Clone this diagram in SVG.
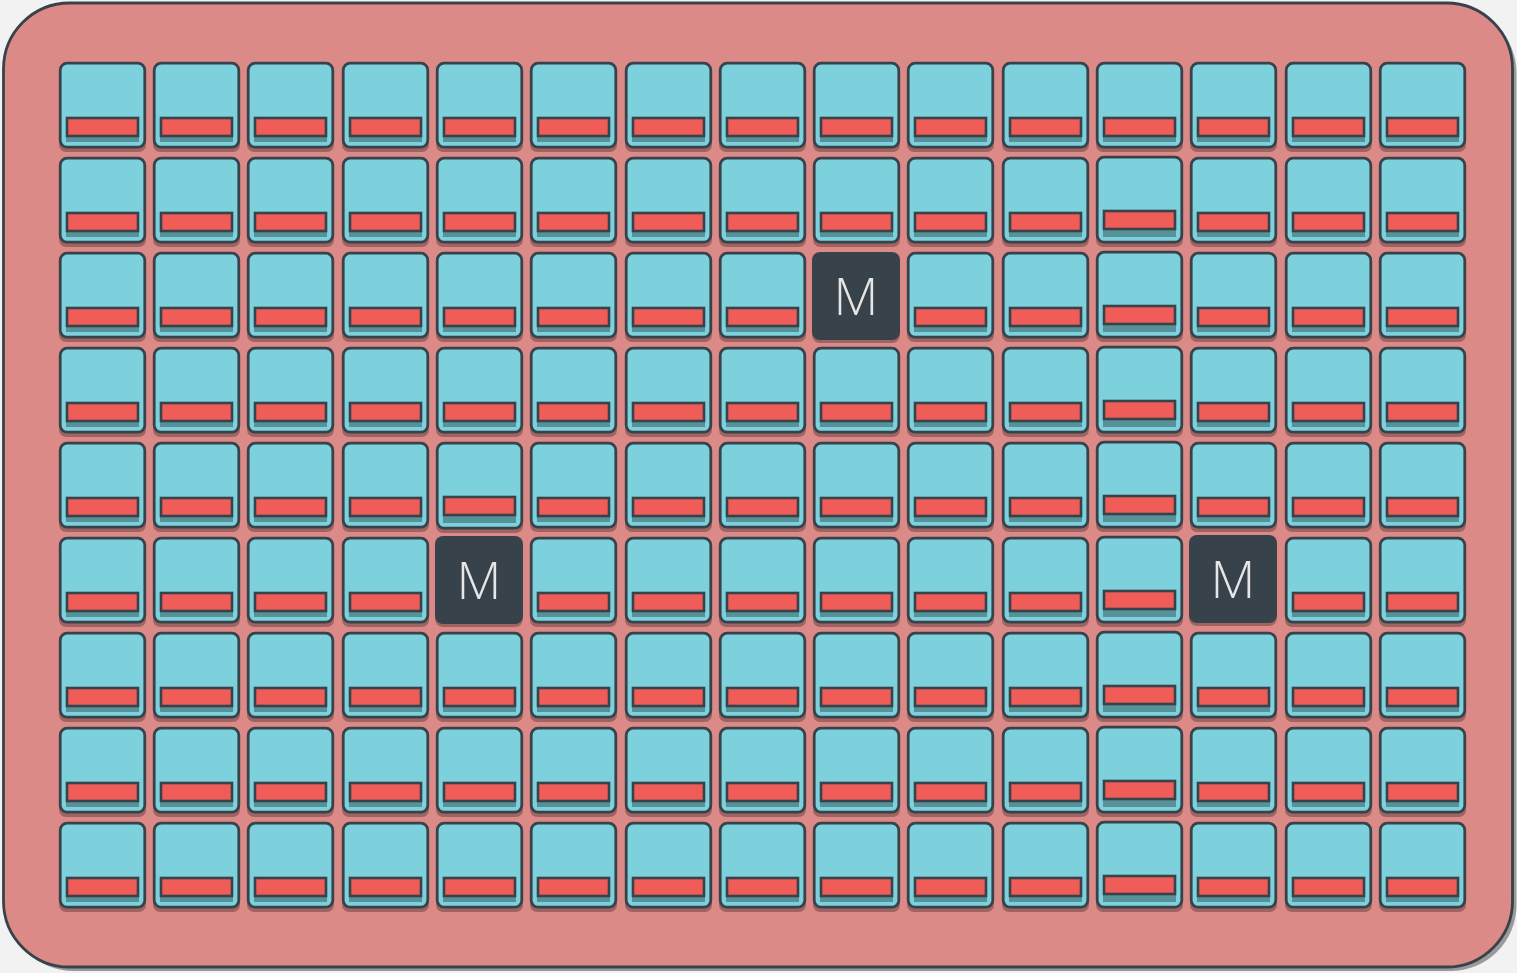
<svg xmlns="http://www.w3.org/2000/svg" xmlns:xlink="http://www.w3.org/1999/xlink" width="1517" height="973" viewBox="0 0 1517 973">
<style>
.bg{fill:#f2f2f2}
.board{fill:#db8a87;stroke:#37424a;stroke-width:2.8}
.boardsh{fill:#9a9a9a}
.sh{fill:#000;opacity:.27}
.tile{fill:#7dd1dc;stroke:#37424a;stroke-width:2.8}
.bar{fill:#f05c57;stroke:#37424a;stroke-width:2.6}
.barsh{fill:#000;opacity:.3}
.mt{fill:#37424a}
.ml{font-family:"Open Sans","Liberation Sans",sans-serif;font-weight:300;font-size:52px;fill:#e6e6e6;text-anchor:middle}
</style>
<defs>
<g id="tile">
<rect class="sh" x="0" y="4" width="87" height="86" rx="7"/>
<rect class="tile" x="1.2" y="1.2" width="84.6" height="84" rx="7"/>
<rect class="barsh" x="7" y="60" width="73" height="20"/>
<rect class="bar" x="8" y="56" width="71" height="18"/>
</g>
<g id="tileb">
<rect class="sh" x="0" y="4" width="87" height="87" rx="7"/>
<rect class="tile" x="1.2" y="1.2" width="84.6" height="85" rx="7"/>
<rect class="barsh" x="7" y="59" width="73" height="22"/>
<rect class="bar" x="8" y="55" width="71" height="18"/>
</g>
<g id="mtile">
<rect class="sh" x="0" y="4" width="88" height="87" rx="8"/>
<rect class="mt" x="0" y="0" width="88" height="88" rx="8"/>
</g>
</defs>
<rect class="bg" x="0" y="0" width="1517" height="973"/>
<g id="board">
<rect class="boardsh" x="7.5" y="7" width="1509" height="964" rx="66"/>
<rect class="board" x="3.5" y="3" width="1509" height="964" rx="66"/>
</g>
<g id="connectors"/>
<g id="r0">
<g id="t0-0" transform="translate(59,62)"><use href="#tile"/></g>
<g id="t0-1" transform="translate(153,62)"><use href="#tile"/></g>
<g id="t0-2" transform="translate(247,62)"><use href="#tile"/></g>
<g id="t0-3" transform="translate(342,62)"><use href="#tile"/></g>
<g id="t0-4" transform="translate(436,62)"><use href="#tile"/></g>
<g id="t0-5" transform="translate(530,62)"><use href="#tile"/></g>
<g id="t0-6" transform="translate(625,62)"><use href="#tile"/></g>
<g id="t0-7" transform="translate(719,62)"><use href="#tile"/></g>
<g id="t0-8" transform="translate(813,62)"><use href="#tile"/></g>
<g id="t0-9" transform="translate(907,62)"><use href="#tile"/></g>
<g id="t0-10" transform="translate(1002,62)"><use href="#tile"/></g>
<g id="t0-11" transform="translate(1096,62)"><use href="#tile"/></g>
<g id="t0-12" transform="translate(1190,62)"><use href="#tile"/></g>
<g id="t0-13" transform="translate(1285,62)"><use href="#tile"/></g>
<g id="t0-14" transform="translate(1379,62)"><use href="#tile"/></g>
</g>
<g id="r1">
<g id="t1-0" transform="translate(59,157)"><use href="#tile"/></g>
<g id="t1-1" transform="translate(153,157)"><use href="#tile"/></g>
<g id="t1-2" transform="translate(247,157)"><use href="#tile"/></g>
<g id="t1-3" transform="translate(342,157)"><use href="#tile"/></g>
<g id="t1-4" transform="translate(436,157)"><use href="#tile"/></g>
<g id="t1-5" transform="translate(530,157)"><use href="#tile"/></g>
<g id="t1-6" transform="translate(625,157)"><use href="#tile"/></g>
<g id="t1-7" transform="translate(719,157)"><use href="#tile"/></g>
<g id="t1-8" transform="translate(813,157)"><use href="#tile"/></g>
<g id="t1-9" transform="translate(907,157)"><use href="#tile"/></g>
<g id="t1-10" transform="translate(1002,157)"><use href="#tile"/></g>
<g id="t1-11" transform="translate(1096,156)"><use href="#tileb"/></g>
<g id="t1-12" transform="translate(1190,157)"><use href="#tile"/></g>
<g id="t1-13" transform="translate(1285,157)"><use href="#tile"/></g>
<g id="t1-14" transform="translate(1379,157)"><use href="#tile"/></g>
</g>
<g id="r2">
<g id="t2-0" transform="translate(59,252)"><use href="#tile"/></g>
<g id="t2-1" transform="translate(153,252)"><use href="#tile"/></g>
<g id="t2-2" transform="translate(247,252)"><use href="#tile"/></g>
<g id="t2-3" transform="translate(342,252)"><use href="#tile"/></g>
<g id="t2-4" transform="translate(436,252)"><use href="#tile"/></g>
<g id="t2-5" transform="translate(530,252)"><use href="#tile"/></g>
<g id="t2-6" transform="translate(625,252)"><use href="#tile"/></g>
<g id="t2-7" transform="translate(719,252)"><use href="#tile"/></g>
<g id="m2-8" transform="translate(812,252)"><use href="#mtile"/><text class="ml" x="44" y="63">M</text></g>
<g id="t2-9" transform="translate(907,252)"><use href="#tile"/></g>
<g id="t2-10" transform="translate(1002,252)"><use href="#tile"/></g>
<g id="t2-11" transform="translate(1096,251)"><use href="#tileb"/></g>
<g id="t2-12" transform="translate(1190,252)"><use href="#tile"/></g>
<g id="t2-13" transform="translate(1285,252)"><use href="#tile"/></g>
<g id="t2-14" transform="translate(1379,252)"><use href="#tile"/></g>
</g>
<g id="r3">
<g id="t3-0" transform="translate(59,347)"><use href="#tile"/></g>
<g id="t3-1" transform="translate(153,347)"><use href="#tile"/></g>
<g id="t3-2" transform="translate(247,347)"><use href="#tile"/></g>
<g id="t3-3" transform="translate(342,347)"><use href="#tile"/></g>
<g id="t3-4" transform="translate(436,347)"><use href="#tile"/></g>
<g id="t3-5" transform="translate(530,347)"><use href="#tile"/></g>
<g id="t3-6" transform="translate(625,347)"><use href="#tile"/></g>
<g id="t3-7" transform="translate(719,347)"><use href="#tile"/></g>
<g id="t3-8" transform="translate(813,347)"><use href="#tile"/></g>
<g id="t3-9" transform="translate(907,347)"><use href="#tile"/></g>
<g id="t3-10" transform="translate(1002,347)"><use href="#tile"/></g>
<g id="t3-11" transform="translate(1096,346)"><use href="#tileb"/></g>
<g id="t3-12" transform="translate(1190,347)"><use href="#tile"/></g>
<g id="t3-13" transform="translate(1285,347)"><use href="#tile"/></g>
<g id="t3-14" transform="translate(1379,347)"><use href="#tile"/></g>
</g>
<g id="r4">
<g id="t4-0" transform="translate(59,442)"><use href="#tile"/></g>
<g id="t4-1" transform="translate(153,442)"><use href="#tile"/></g>
<g id="t4-2" transform="translate(247,442)"><use href="#tile"/></g>
<g id="t4-3" transform="translate(342,442)"><use href="#tile"/></g>
<g id="t4-4" transform="translate(436,442)"><use href="#tileb"/></g>
<g id="t4-5" transform="translate(530,442)"><use href="#tile"/></g>
<g id="t4-6" transform="translate(625,442)"><use href="#tile"/></g>
<g id="t4-7" transform="translate(719,442)"><use href="#tile"/></g>
<g id="t4-8" transform="translate(813,442)"><use href="#tile"/></g>
<g id="t4-9" transform="translate(907,442)"><use href="#tile"/></g>
<g id="t4-10" transform="translate(1002,442)"><use href="#tile"/></g>
<g id="t4-11" transform="translate(1096,441)"><use href="#tileb"/></g>
<g id="t4-12" transform="translate(1190,442)"><use href="#tile"/></g>
<g id="t4-13" transform="translate(1285,442)"><use href="#tile"/></g>
<g id="t4-14" transform="translate(1379,442)"><use href="#tile"/></g>
</g>
<g id="r5">
<g id="t5-0" transform="translate(59,537)"><use href="#tile"/></g>
<g id="t5-1" transform="translate(153,537)"><use href="#tile"/></g>
<g id="t5-2" transform="translate(247,537)"><use href="#tile"/></g>
<g id="t5-3" transform="translate(342,537)"><use href="#tile"/></g>
<g id="m5-4" transform="translate(435,536)"><use href="#mtile"/><text class="ml" x="44" y="63">M</text></g>
<g id="t5-5" transform="translate(530,537)"><use href="#tile"/></g>
<g id="t5-6" transform="translate(625,537)"><use href="#tile"/></g>
<g id="t5-7" transform="translate(719,537)"><use href="#tile"/></g>
<g id="t5-8" transform="translate(813,537)"><use href="#tile"/></g>
<g id="t5-9" transform="translate(907,537)"><use href="#tile"/></g>
<g id="t5-10" transform="translate(1002,537)"><use href="#tile"/></g>
<g id="t5-11" transform="translate(1096,536)"><use href="#tileb"/></g>
<g id="m5-12" transform="translate(1189,535)"><use href="#mtile"/><text class="ml" x="44" y="63">M</text></g>
<g id="t5-13" transform="translate(1285,537)"><use href="#tile"/></g>
<g id="t5-14" transform="translate(1379,537)"><use href="#tile"/></g>
</g>
<g id="r6">
<g id="t6-0" transform="translate(59,632)"><use href="#tile"/></g>
<g id="t6-1" transform="translate(153,632)"><use href="#tile"/></g>
<g id="t6-2" transform="translate(247,632)"><use href="#tile"/></g>
<g id="t6-3" transform="translate(342,632)"><use href="#tile"/></g>
<g id="t6-4" transform="translate(436,632)"><use href="#tile"/></g>
<g id="t6-5" transform="translate(530,632)"><use href="#tile"/></g>
<g id="t6-6" transform="translate(625,632)"><use href="#tile"/></g>
<g id="t6-7" transform="translate(719,632)"><use href="#tile"/></g>
<g id="t6-8" transform="translate(813,632)"><use href="#tile"/></g>
<g id="t6-9" transform="translate(907,632)"><use href="#tile"/></g>
<g id="t6-10" transform="translate(1002,632)"><use href="#tile"/></g>
<g id="t6-11" transform="translate(1096,631)"><use href="#tileb"/></g>
<g id="t6-12" transform="translate(1190,632)"><use href="#tile"/></g>
<g id="t6-13" transform="translate(1285,632)"><use href="#tile"/></g>
<g id="t6-14" transform="translate(1379,632)"><use href="#tile"/></g>
</g>
<g id="r7">
<g id="t7-0" transform="translate(59,727)"><use href="#tile"/></g>
<g id="t7-1" transform="translate(153,727)"><use href="#tile"/></g>
<g id="t7-2" transform="translate(247,727)"><use href="#tile"/></g>
<g id="t7-3" transform="translate(342,727)"><use href="#tile"/></g>
<g id="t7-4" transform="translate(436,727)"><use href="#tile"/></g>
<g id="t7-5" transform="translate(530,727)"><use href="#tile"/></g>
<g id="t7-6" transform="translate(625,727)"><use href="#tile"/></g>
<g id="t7-7" transform="translate(719,727)"><use href="#tile"/></g>
<g id="t7-8" transform="translate(813,727)"><use href="#tile"/></g>
<g id="t7-9" transform="translate(907,727)"><use href="#tile"/></g>
<g id="t7-10" transform="translate(1002,727)"><use href="#tile"/></g>
<g id="t7-11" transform="translate(1096,726)"><use href="#tileb"/></g>
<g id="t7-12" transform="translate(1190,727)"><use href="#tile"/></g>
<g id="t7-13" transform="translate(1285,727)"><use href="#tile"/></g>
<g id="t7-14" transform="translate(1379,727)"><use href="#tile"/></g>
</g>
<g id="r8">
<g id="t8-0" transform="translate(59,822)"><use href="#tile"/></g>
<g id="t8-1" transform="translate(153,822)"><use href="#tile"/></g>
<g id="t8-2" transform="translate(247,822)"><use href="#tile"/></g>
<g id="t8-3" transform="translate(342,822)"><use href="#tile"/></g>
<g id="t8-4" transform="translate(436,822)"><use href="#tile"/></g>
<g id="t8-5" transform="translate(530,822)"><use href="#tile"/></g>
<g id="t8-6" transform="translate(625,822)"><use href="#tile"/></g>
<g id="t8-7" transform="translate(719,822)"><use href="#tile"/></g>
<g id="t8-8" transform="translate(813,822)"><use href="#tile"/></g>
<g id="t8-9" transform="translate(907,822)"><use href="#tile"/></g>
<g id="t8-10" transform="translate(1002,822)"><use href="#tile"/></g>
<g id="t8-11" transform="translate(1096,821)"><use href="#tileb"/></g>
<g id="t8-12" transform="translate(1190,822)"><use href="#tile"/></g>
<g id="t8-13" transform="translate(1285,822)"><use href="#tile"/></g>
<g id="t8-14" transform="translate(1379,822)"><use href="#tile"/></g>
</g>
</svg>
